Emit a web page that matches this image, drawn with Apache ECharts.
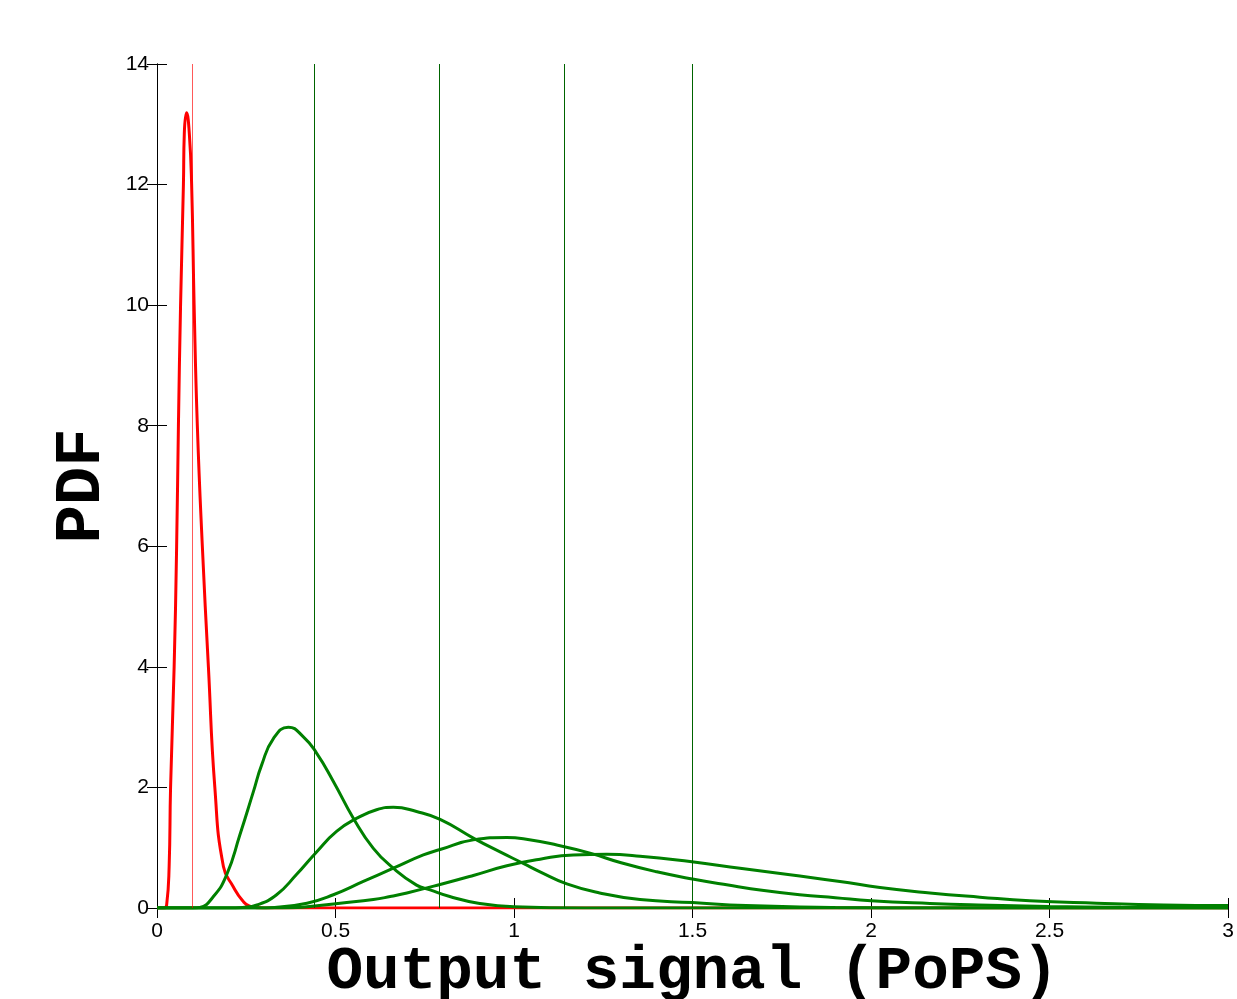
<!DOCTYPE html>
<html>
<head>
<meta charset="utf-8">
<script src="https://cdn.jsdelivr.net/npm/echarts@6/dist/echarts.min.js"></script>
<style>
html,body{margin:0;padding:0;background:#fff;}
#chart{width:1237px;height:999px;}
</style>
</head>
<body>
<div id="chart"></div>
<script>
// Data: [x, PDF]
const redCurve = [[0,0],[0.02,0],[0.027,0.05],[0.034,0.69],[0.038,2.0],[0.048,4.0],[0.055,6.0],[0.060,8.0],[0.066,10.0],[0.074,12.0],[0.0765,12.85],[0.083,13.19],[0.0905,12.85],[0.097,12.0],[0.104,10.0],[0.113,8.0],[0.127,6.0],[0.144,4.0],[0.162,2.0],[0.186,0.69],[0.214,0.35],[0.24,0.12],[0.26,0.03],[0.3,0],[3,0]];
const greenCurve1 = [[0,0],[0.10,0],[0.12,0.01],[0.158,0.19],[0.195,0.55],[0.232,1.21],[0.27,1.93],[0.293,2.37],[0.326,2.81],[0.368,3.0],[0.41,2.84],[0.447,2.57],[0.494,2.10],[0.55,1.49],[0.606,0.99],[0.662,0.66],[0.727,0.38],[0.765,0.30],[0.82,0.19],[0.9,0.08],[1.0,0.02],[1.2,0],[3,0]];
const greenCurve2 = [[0,0],[0.2,0],[0.24,0.01],[0.28,0.05],[0.335,0.22],[0.39,0.55],[0.447,0.93],[0.503,1.27],[0.56,1.49],[0.615,1.63],[0.662,1.67],[0.727,1.60],[0.793,1.47],[0.886,1.16],[0.961,0.93],[1.026,0.74],[1.073,0.60],[1.148,0.40],[1.24,0.25],[1.353,0.14],[1.5,0.09],[1.65,0.04],[1.9,0.01],[2.2,0],[3,0]];
const greenCurve3 = [[0,0],[0.28,0],[0.33,0.01],[0.42,0.08],[0.494,0.22],[0.578,0.44],[0.662,0.66],[0.746,0.88],[0.793,0.97],[0.886,1.13],[0.98,1.17],[1.026,1.15],[1.12,1.045],[1.213,0.91],[1.30,0.75],[1.40,0.60],[1.50,0.48],[1.60,0.38],[1.70,0.29],[1.80,0.22],[1.90,0.17],[2.0,0.12],[2.165,0.075],[2.3,0.05],[2.5,0.025],[2.7,0.012],[3,0.005]];
const greenCurve4 = [[0,0],[0.35,0],[0.42,0.02],[0.513,0.08],[0.606,0.14],[0.653,0.19],[0.70,0.25],[0.793,0.39],[0.886,0.54],[0.98,0.70],[1.073,0.81],[1.166,0.88],[1.26,0.89],[1.353,0.86],[1.493,0.77],[1.633,0.66],[1.773,0.55],[1.913,0.44],[2.025,0.34],[2.165,0.25],[2.305,0.18],[2.445,0.12],[2.632,0.08],[2.82,0.05],[3.0,0.04]];
const redMean = [0.1];
const greenMeans = [0.437, 0.79, 1.143, 1.496];
const xTicks = {min:0, max:3, step:0.5};
const yTicks = {min:0, max:14, step:2};
const xTitle = 'Output signal (PoPS)';
const yTitle = 'PDF';

const chart = echarts.init(document.getElementById('chart'), null, {renderer:'canvas'});
const tickFont = {fontFamily:'Liberation Sans, Arial, sans-serif', fontSize:21, color:'#000'};
const titleFont = {fontFamily:'Liberation Mono, Courier New, monospace', fontWeight:'bold', fontSize:64, color:'#000'};
const xTitleFont = Object.assign({}, titleFont, {fontSize:61});
const axisLine = {show:true, lineStyle:{color:'#000', width:1}};
const tick = {show:true, inside:true, length:10, lineStyle:{color:'#000', width:1}};

function curve(name, data, color) {
  return {name, type:'line', data, showSymbol:false, smooth:0.5,
    lineStyle:{color, width:3}, itemStyle:{color}, z:3, animation:false};
}
function vlines(vals, color, opacity) {
  return {type:'line', data:[], showSymbol:false, animation:false, z:2,
    markLine:{silent:true, symbol:'none', label:{show:false},
      lineStyle:{color, width:1, type:'solid', opacity},
      data: vals.map(v => ({xAxis:v}))}};
}

chart.setOption({
  backgroundColor:'#fff',
  animation:false,
  grid:{left:157, right:9, top:64, height:844, containLabel:false, outerBoundsMode:'none'},
  xAxis:[
    {type:'value', min:xTicks.min, max:xTicks.max, interval:xTicks.step, position:'bottom',
     name:xTitle, nameLocation:'middle', nameGap:34, nameMoveOverlap:false, nameTextStyle:xTitleFont,
     axisLine, axisTick:tick, splitLine:{show:false},
     axisLabel:Object.assign({margin:13}, tickFont)},
    {type:'value', min:xTicks.min, max:xTicks.max, interval:xTicks.step, position:'top',
     axisLine, axisTick:tick, splitLine:{show:false}, axisLabel:{show:false}}
  ],
  yAxis:[
    {type:'value', min:yTicks.min, max:yTicks.max, interval:yTicks.step, position:'left',
     name:yTitle, nameLocation:'middle', nameGap:40, nameRotate:90, nameTextStyle:titleFont,
     axisLine, axisTick:tick, splitLine:{show:false},
     axisLabel:Object.assign({margin:8}, tickFont)},
    {type:'value', min:yTicks.min, max:yTicks.max, interval:yTicks.step, position:'right',
     axisLine, axisTick:tick, splitLine:{show:false}, axisLabel:{show:false}}
  ],
  series:[
    vlines(redMean, '#ff0000', 0.65),
    vlines(greenMeans, '#006400', 1),
    curve('red', redCurve, '#ff0000'),
    curve('g1', greenCurve1, '#008000'),
    curve('g2', greenCurve2, '#008000'),
    curve('g3', greenCurve3, '#008000'),
    curve('g4', greenCurve4, '#008000')
  ]
});
</script>
</body>
</html>
